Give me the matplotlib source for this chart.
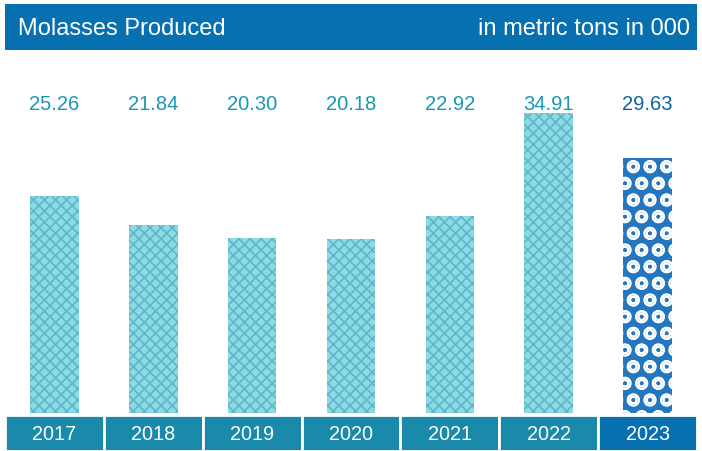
import matplotlib.pyplot as plt
from matplotlib.patches import Rectangle

years = ['2017', '2018', '2019', '2020', '2021', '2022', '2023']
values = [25.26, 21.84, 20.30, 20.18, 22.92, 34.91, 29.63]

plt.rcParams['font.family'] = ['Liberation Sans', 'DejaVu Sans']
plt.rcParams['hatch.linewidth'] = 1.2

W, H = 702, 451
fig = plt.figure(figsize=(W / 100, H / 100), dpi=100)
fig.patch.set_facecolor('white')

# header band
fig.add_artist(Rectangle((5 / W, 1 - 50 / H), 692 / W, 46 / H, transform=fig.transFigure,
                         facecolor='#0770b0', edgecolor='none'))
fig.text(18 / W, 1 - 29 / H, 'Molasses Produced', color='white', fontsize=17, va='center', ha='left')
fig.text(690 / W, 1 - 29 / H, 'in metric tons in 000', color='white', fontsize=17, va='center', ha='right')

# bars
px = 8.6  # pixels per unit
ax = fig.add_axes([5 / W, (H - 413) / H, 692 / W, 358 / H])
ax.set_xlim(-0.5, len(years) - 0.5)
ax.set_ylim(0, 358 / px)
x = range(len(years))
for i, v in enumerate(values):
    if years[i] == '2023':
        ax.bar(i, v, width=0.49, color='#2476bf', edgecolor='white', hatch='Oo', linewidth=0)
        ax.text(i, (358 - 50) / px, '%.2f' % v, ha='center', va='center', color='#0b65a3', fontsize=14.5)
    else:
        ax.bar(i, v, width=0.49, color='#8fd9e4', edgecolor='#5ab9c8', hatch='xxx', linewidth=0)
        ax.text(i, (358 - 50) / px, '%.2f' % v, ha='center', va='center', color='#1898b4', fontsize=14.5)
ax.axis('off')

# year strip
ax2 = fig.add_axes([5 / W, 0, 692 / W, 36 / H])
ax2.set_xlim(-0.5, len(years) - 0.5)
ax2.set_ylim(0, 1)
colors = ['#1a8aaa'] * 6 + ['#0770b0']
ax2.bar(x, [1] * len(years), width=1.0, color=colors, edgecolor='white', linewidth=2)
for i, y in enumerate(years):
    ax2.text(i, 0.45, y, ha='center', va='center', color='white', fontsize=14.3)
ax2.axis('off')

fig.savefig('out.png', dpi=100)
